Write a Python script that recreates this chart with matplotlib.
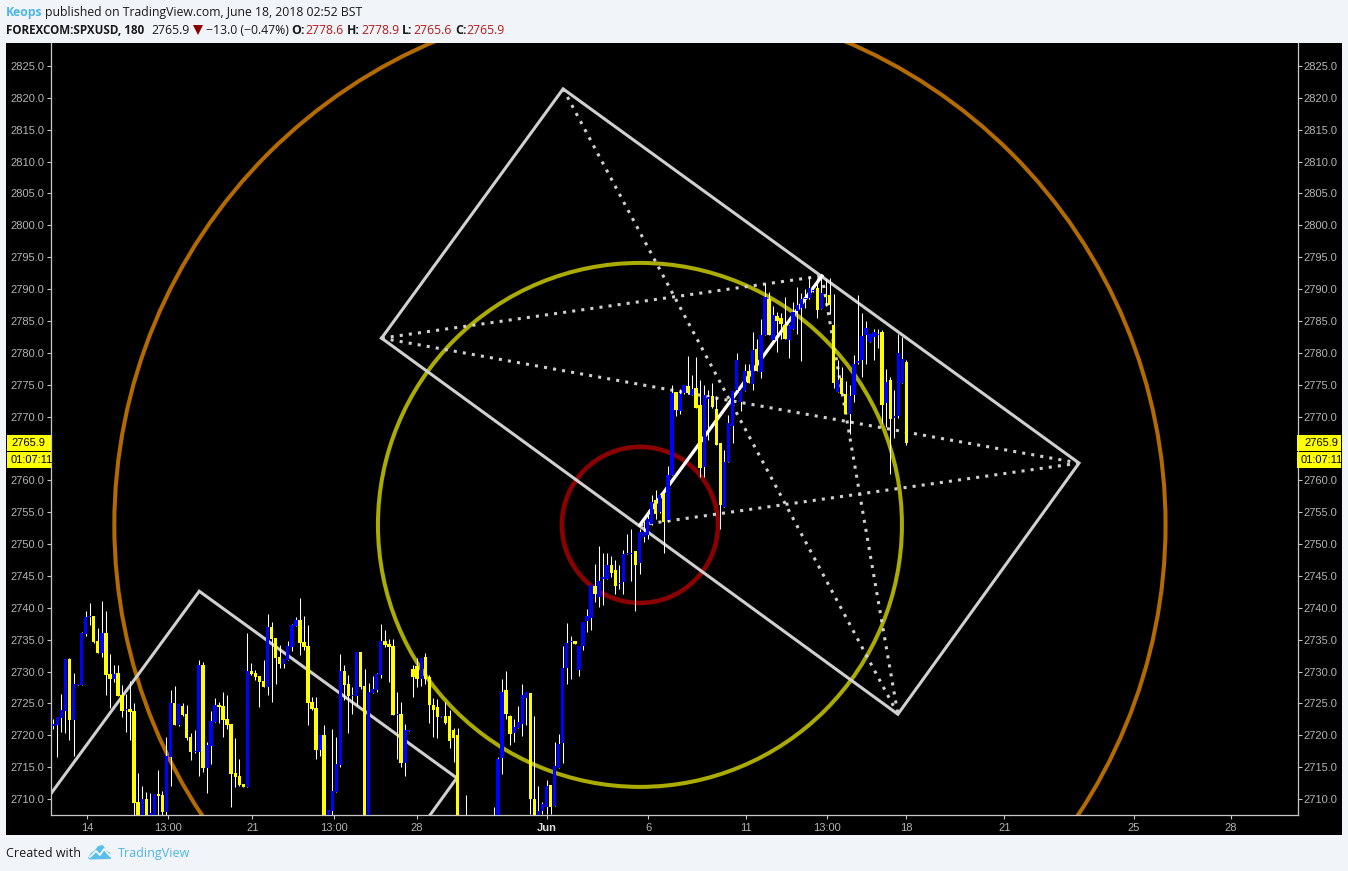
import matplotlib
matplotlib.use("Agg")
import numpy as np
import matplotlib.pyplot as plt
from matplotlib.patches import Ellipse, Polygon, Rectangle
from matplotlib.lines import Line2D

W, H = 1348, 871

# 3 hour bars. bars under the bottom of the axis are guesses
opens = [
    2721.5, 2721.6, 2722.7, 2723.8, 2732.0, 2722.4, 2727.9, 2727.9, 2735.9, 2738.5,
    2738.7, 2734.8, 2732.9, 2736.1, 2729.6, 2728.8, 2729.8, 2726.3, 2723.9, 2724.1,
    2723.8, 2709.5, 2706.5, 2710.0, 2706.8, 2707.0, 2710.8, 2710.6, 2708.0, 2716.6,
    2725.1, 2721.6, 2724.6, 2723.3, 2719.7, 2717.3, 2717.4, 2731.0, 2714.9, 2718.3,
    2722.1, 2724.8, 2724.6, 2722.6, 2721.8, 2714.1, 2713.6, 2712.4, 2711.9, 2730.1,
    2729.8, 2729.3, 2728.5, 2727.6, 2737.0, 2735.3, 2732.3, 2731.2, 2731.8, 2733.9,
    2737.2, 2738.1, 2734.6, 2734.0, 2725.2, 2724.3, 2717.7, 2720.0, 2706.5, 2708.1,
    2711.1, 2715.3, 2730.1, 2728.1, 2726.2, 2726.2, 2733.1, 2727.7, 2706.0, 2726.6,
    2727.1, 2729.5, 2734.8, 2734.3, 2734.0, 2723.2, 2723.3, 2715.7, 2720.7, 2730.4,
    2730.9, 2728.8, 2732.3, 2729.1, 2724.8, 2724.4, 2722.9, 2723.0, 2723.0, 2720.8,
    2720.0, 2705.0, 2705.5, 2704.5, 2704.0, 2703.5, 2703.0, 2703.5, 2704.0, 2704.5,
    2705.0, 2716.4, 2727.1, 2723.0, 2720.4, 2721.1, 2721.8, 2725.9, 2726.6, 2710.0,
    2706.0, 2708.1, 2708.8, 2712.2, 2708.9, 2714.9, 2718.8, 2730.6, 2734.6, 2734.8,
    2730.2, 2734.0, 2737.9, 2738.4, 2743.4, 2741.7, 2744.5, 2744.5, 2746.7, 2745.9,
    2743.7, 2744.0, 2748.4, 2748.4, 2748.9, 2747.0, 2751.1, 2751.4, 2753.1, 2756.9,
    2755.0, 2757.8, 2753.8, 2760.8, 2773.8, 2770.9, 2773.7, 2774.8, 2773.4, 2774.5,
    2771.8, 2762.1, 2772.7, 2773.2, 2771.2, 2765.8, 2755.8, 2762.9, 2768.5, 2774.2,
    2772.3, 2774.0, 2777.1, 2775.1, 2780.6, 2777.0, 2782.8, 2788.4, 2782.0, 2785.8,
    2785.5, 2784.4, 2782.0, 2783.7, 2786.6, 2787.0, 2788.4, 2788.6, 2789.7, 2790.2,
    2786.9, 2789.1, 2789.1, 2784.4, 2773.9, 2776.1, 2773.5, 2770.4, 2773.4, 2778.4,
    2778.9, 2782.8, 2781.7, 2782.5, 2782.8, 2783.3, 2772.1, 2775.7, 2769.8, 2770.1,
    2775.3, 2778.6,
]
closes = [
    2721.8, 2722.9, 2724.0, 2732.0, 2722.4, 2728.1, 2728.1, 2736.1, 2738.6, 2738.7,
    2734.6, 2732.9, 2736.1, 2729.5, 2728.8, 2729.6, 2726.2, 2723.8, 2724.1, 2723.7,
    2709.4, 2706.5, 2710.0, 2706.8, 2707.8, 2710.8, 2710.5, 2708.0, 2716.8, 2725.1,
    2721.6, 2724.9, 2723.2, 2719.6, 2717.4, 2717.5, 2731.0, 2714.9, 2718.5, 2722.2,
    2724.8, 2724.4, 2722.4, 2721.6, 2713.9, 2713.5, 2712.2, 2711.9, 2730.1, 2729.6,
    2729.1, 2728.4, 2727.6, 2737.0, 2735.1, 2732.1, 2731.2, 2732.0, 2734.0, 2737.3,
    2738.1, 2734.5, 2733.9, 2725.1, 2724.1, 2717.7, 2720.0, 2706.0, 2708.3, 2711.3,
    2715.5, 2730.1, 2727.9, 2726.2, 2726.3, 2733.1, 2727.6, 2706.0, 2726.8, 2727.3,
    2729.6, 2734.8, 2734.2, 2733.9, 2723.2, 2723.3, 2715.7, 2720.8, 2720.8, 2729.1,
    2728.8, 2732.1, 2728.8, 2724.8, 2724.0, 2722.9, 2723.0, 2721.9, 2719.1, 2719.6,
    2706.0, 2705.5, 2704.5, 2704.0, 2703.5, 2703.0, 2703.5, 2704.0, 2704.5, 2706.0,
    2716.3, 2726.8, 2723.3, 2720.2, 2721.3, 2722.1, 2726.3, 2726.8, 2710.0, 2706.0,
    2708.1, 2709.2, 2712.0, 2708.8, 2715.2, 2718.6, 2730.6, 2734.5, 2734.8, 2734.3,
    2734.0, 2737.8, 2738.7, 2743.6, 2742.2, 2744.2, 2744.8, 2746.7, 2745.4, 2743.4,
    2743.9, 2748.4, 2748.6, 2748.6, 2746.7, 2751.9, 2751.9, 2753.9, 2756.6, 2754.7,
    2757.7, 2753.4, 2760.8, 2773.7, 2771.0, 2773.5, 2774.9, 2773.7, 2774.3, 2771.3,
    2761.9, 2773.4, 2773.1, 2771.5, 2765.5, 2756.1, 2762.9, 2769.0, 2774.0, 2778.9,
    2774.0, 2777.1, 2775.3, 2780.4, 2777.2, 2782.8, 2788.8, 2782.8, 2785.9, 2785.0,
    2784.5, 2782.2, 2784.2, 2786.4, 2787.5, 2788.4, 2788.6, 2790.2, 2789.9, 2786.7,
    2789.4, 2788.8, 2787.5, 2775.3, 2775.7, 2773.5, 2770.4, 2773.2, 2778.3, 2778.7,
    2782.6, 2783.9, 2783.0, 2783.3, 2783.0, 2771.8, 2775.4, 2769.6, 2770.1, 2780.0,
    2779.0, 2765.9,
]
highs = [
    2722.5, 2722.9, 2726.5, 2732.0, 2732.1, 2729.7, 2728.1, 2736.2, 2739.5, 2740.8,
    2738.7, 2736.8, 2741.1, 2739.5, 2732.8, 2731.0, 2731.0, 2727.9, 2726.5, 2728.5,
    2725.0, 2714.1, 2712.0, 2711.1, 2710.9, 2710.8, 2714.6, 2711.3, 2719.7, 2727.1,
    2727.7, 2724.9, 2725.1, 2724.8, 2720.3, 2720.8, 2731.8, 2731.5, 2719.0, 2723.8,
    2725.9, 2725.2, 2726.8, 2726.3, 2721.8, 2719.6, 2716.3, 2712.4, 2736.1, 2731.3,
    2730.2, 2729.3, 2731.8, 2739.0, 2737.8, 2735.3, 2734.2, 2732.0, 2734.8, 2737.5,
    2738.6, 2741.5, 2738.7, 2737.3, 2726.0, 2726.0, 2720.0, 2721.6, 2708.3, 2721.0,
    2719.7, 2732.8, 2731.0, 2729.5, 2727.6, 2733.1, 2733.1, 2730.4, 2728.2, 2729.3,
    2729.8, 2737.5, 2736.5, 2735.1, 2735.1, 2726.8, 2725.2, 2721.8, 2720.8, 2731.0,
    2732.1, 2732.1, 2732.9, 2729.5, 2725.9, 2725.7, 2723.0, 2725.2, 2724.0, 2721.1,
    2721.1, 2706.5, 2710.6, 2706.0, 2705.5, 2705.0, 2704.5, 2705.0, 2705.5, 2708.8,
    2716.6, 2728.8, 2730.1, 2723.2, 2722.5, 2724.6, 2728.1, 2726.8, 2726.6, 2723.0,
    2712.0, 2709.5, 2713.0, 2712.2, 2719.0, 2720.2, 2734.0, 2737.6, 2735.6, 2734.8,
    2734.0, 2737.8, 2739.8, 2743.6, 2746.9, 2749.7, 2748.6, 2748.6, 2748.1, 2747.5,
    2746.7, 2749.1, 2751.6, 2752.3, 2748.9, 2752.3, 2753.6, 2755.3, 2757.7, 2758.5,
    2757.7, 2757.8, 2762.2, 2774.9, 2773.8, 2774.3, 2774.9, 2779.5, 2776.5, 2779.3,
    2775.7, 2774.9, 2774.2, 2775.3, 2773.2, 2765.8, 2764.7, 2770.2, 2774.0, 2780.0,
    2774.0, 2778.2, 2778.2, 2783.3, 2782.2, 2785.3, 2791.0, 2789.5, 2787.4, 2786.4,
    2786.3, 2788.8, 2784.4, 2788.0, 2790.3, 2789.4, 2790.0, 2791.9, 2790.0, 2791.7,
    2791.9, 2791.6, 2791.7, 2789.2, 2778.9, 2777.8, 2775.6, 2775.0, 2779.7, 2789.1,
    2786.3, 2785.0, 2783.0, 2783.7, 2783.7, 2783.6, 2777.5, 2776.2, 2774.2, 2783.0,
    2782.5, 2778.9,
]
lows = [
    2721.0, 2716.6, 2720.5, 2720.3, 2719.3, 2716.8, 2727.9, 2727.9, 2735.6, 2737.3,
    2734.4, 2732.9, 2732.3, 2726.3, 2724.3, 2728.4, 2726.1, 2722.9, 2720.5, 2719.3,
    2707.0, 2705.0, 2705.0, 2705.5, 2706.0, 2706.5, 2707.0, 2707.5, 2707.5, 2712.0,
    2721.6, 2721.5, 2723.0, 2719.3, 2716.1, 2717.2, 2713.6, 2714.2, 2711.0, 2715.5,
    2722.1, 2721.9, 2719.7, 2721.0, 2708.8, 2711.9, 2712.1, 2711.9, 2711.9, 2729.5,
    2728.7, 2724.4, 2727.6, 2726.3, 2725.2, 2728.1, 2730.6, 2730.6, 2731.8, 2733.2,
    2737.2, 2732.6, 2733.4, 2721.6, 2724.0, 2716.3, 2716.8, 2705.5, 2706.0, 2707.5,
    2711.1, 2715.0, 2725.5, 2720.4, 2723.3, 2724.8, 2727.3, 2705.0, 2705.0, 2726.6,
    2726.8, 2729.0, 2733.9, 2728.4, 2723.2, 2716.3, 2715.0, 2713.6, 2720.7, 2726.0,
    2727.6, 2727.7, 2728.1, 2721.9, 2719.7, 2719.6, 2722.9, 2721.8, 2718.0, 2715.8,
    2705.0, 2703.0, 2703.5, 2703.0, 2702.5, 2702.0, 2702.0, 2702.5, 2703.0, 2703.0,
    2704.5, 2713.9, 2722.5, 2718.5, 2719.0, 2721.1, 2719.9, 2721.6, 2707.6, 2705.0,
    2705.5, 2707.6, 2707.6, 2707.6, 2708.9, 2714.9, 2715.7, 2728.1, 2728.8, 2734.3,
    2729.3, 2733.4, 2736.2, 2736.5, 2740.9, 2740.1, 2740.4, 2744.5, 2744.8, 2742.2,
    2742.9, 2742.2, 2748.4, 2744.2, 2739.5, 2745.3, 2750.3, 2750.8, 2753.0, 2753.9,
    2754.8, 2748.6, 2753.4, 2760.8, 2770.1, 2770.4, 2773.5, 2773.5, 2773.4, 2771.3,
    2760.5, 2760.5, 2766.3, 2771.3, 2765.5, 2752.3, 2755.8, 2762.9, 2765.8, 2774.2,
    2770.9, 2774.0, 2775.3, 2774.2, 2777.2, 2776.1, 2782.8, 2782.8, 2782.0, 2780.1,
    2782.2, 2782.2, 2779.2, 2783.7, 2783.0, 2778.7, 2787.0, 2788.4, 2789.6, 2785.5,
    2786.9, 2787.4, 2786.1, 2774.5, 2773.9, 2773.5, 2770.4, 2767.3, 2772.3, 2778.3,
    2776.2, 2778.3, 2781.7, 2778.9, 2780.8, 2769.0, 2768.4, 2761.0, 2766.6, 2769.8,
    2775.3, 2765.6,
]

# time axis, in bar numbers
x_tick_pos = [8.4, 28.4, 49.2, 69.4, 90.0, 122.1, 147.1, 171.3, 191.4, 211.0, 235.2, 267.2, 291.2]
x_tick_labels = ["14", "13:00", "21", "13:00", "28", "Jun", "6", "11", "13:00", "18", "21", "25", "28"]
y_ticks = np.arange(2710, 2830, 5)

# drawings: (bar, price)
a = (81.2, 2782.3)
b = (126.1, 2821.4)
c = (253.7, 2762.7)
d = (208.9, 2723.3)
e = (190.1, 2792.05)
f = (145.1, 2753.0)
box_main = [a, b, c, d, a]
dotted = [(a, e), (a, c), (c, f), (b, d), (e, d)]
box_old = [(-5.7, 2706.4), (36.1, 2742.6), (99.8, 2713.3), (90.7, 2705.3)]
# circles: radius in bars, radius in price, colour, line width
circles = [(19.3, 12.24, "#8b0000", 3.3), (64.8, 41.1, "#abab00", 2.9), (130.0, 82.4, "#b36b00", 2.9)]

last_price = "2765.9"
countdown = "01:07:11"

BG = "#f1f4f8"
GREY = "#b4b4b4"
AXIS = "#c8c8c8"
BLUE_TEXT = "#4db5e8"
RED = "#b51a1a"


def fx(px):
    return px / W


def fy(py):
    return 1 - py / H


def put(px, py, s, **kw):
    kw.setdefault("family", "Open Sans")
    kw.setdefault("fontsize", 8.8)
    kw.setdefault("color", "#1a1a1a")
    kw.setdefault("va", "center")
    fig.text(fx(px), fy(py), s, **kw)


fig = plt.figure(figsize=(W / 100, H / 100), dpi=100, facecolor=BG)
fig.add_artist(Rectangle((fx(6), fy(835)), fx(1336), 792 / H, transform=fig.transFigure,
                         facecolor="black", edgecolor="none", zorder=-1))

ax = fig.add_axes([fx(50.5), fy(815), fx(1247), 772 / H], facecolor="black")
ax.set_xlim(-0.69, 307.74)
ax.set_ylim(2707.49, 2828.6)

for rx, ry, col, lw in circles:
    ax.add_patch(Ellipse(f, 2 * rx, 2 * ry, fill=False, edgecolor=col, linewidth=lw, zorder=2))

ax.plot(*zip(*box_old), color="#d0d0d0", lw=2.2, zorder=2, solid_joinstyle="miter")
ax.plot(*zip(*box_main), color="#d0d0d0", lw=2.2, zorder=2, solid_joinstyle="miter")
for p, q in dotted:
    ax.plot([p[0], q[0]], [p[1], q[1]], color="#d0d0d0", lw=2.2, ls=(0, (1, 2)), zorder=2)
ax.plot([f[0], e[0]], [f[1], e[1]], color="white", lw=2.4, zorder=2)

bars = np.arange(len(opens))
o = np.array(opens)
cl = np.array(closes)
colors = np.where(cl >= o, "#0000ff", "#ffff00")
ax.vlines(bars, lows, highs, color="white", linewidth=0.75, zorder=3)
ax.bar(bars, np.abs(cl - o), bottom=np.minimum(o, cl), width=3.4 / 4.043, color=colors,
       linewidth=0, zorder=4)

ax.set_yticks(y_ticks)
# 2765.0 sits behind the yellow price label in the original
ax.set_yticklabels(["" if v == 2765 else "%.1f" % v for v in y_ticks])
ax.set_xticks(x_tick_pos)
ax.set_xticklabels(x_tick_labels)
ax.tick_params(axis="y", left=True, right=True, labelleft=True, labelright=True,
               colors=AXIS, labelcolor=GREY, length=3, width=0.8, pad=1.2, labelsize=8)
ax.tick_params(axis="x", colors=AXIS, labelcolor=GREY, length=3, width=0.8, pad=2.5, labelsize=8)
for t in ax.get_yticklabels() + ax.get_xticklabels():
    t.set_family("Liberation Sans")
jun = ax.get_xticklabels()[x_tick_labels.index("Jun")]
jun.set_fontweight("bold")
jun.set_color("#e0e0e0")
for side in ["left", "right", "bottom"]:
    ax.spines[side].set_color(AXIS)
    ax.spines[side].set_linewidth(0.9)
ax.spines["top"].set_visible(False)

# yellow price and countdown labels on both scales
for x0, x1, x_price, x_clock in [(7, 51, 11, 11), (1297, 1341, 1304, 1301)]:
    for y0, y1, s, xt in [(435, 451, last_price, x_price), (452, 468, countdown, x_clock)]:
        fig.add_artist(Rectangle((fx(x0), fy(y1)), fx(x1 - x0), (y1 - y0) / H, transform=fig.transFigure,
                                 facecolor="#ffff00", edgecolor="none", zorder=5))
        fig.text(fx(xt), fy((y0 + y1) / 2 - 0.5), s, family="Liberation Sans",
                 fontsize=8, color="black", ha="left", va="center", zorder=6)

# header
put(6, 12.5, "Keops", color=BLUE_TEXT, fontweight="bold")
put(45, 12.5, "published on TradingView.com, June 18, 2018 02:52 BST")
put(6, 30.5, "FOREXCOM:SPXUSD, 180", fontweight="bold", fontsize=8.4)
put(151, 30.5, last_price)
fig.add_artist(Polygon([(fx(193), fy(25)), (fx(203), fy(25)), (fx(198), fy(35))], closed=True,
                       transform=fig.transFigure, facecolor="#8b0000", edgecolor="none"))
put(206, 30.5, "\u221213.0 (\u22120.47%)")
for px_label, label, px_val, val in [(291, "O:", 305, "2778.6"), (347, "H:", 361, "2778.9"),
                                     (402, "L:", 413, "2765.6"), (455, "C:", 466, "2765.9")]:
    put(px_label, 30.5, label, fontweight="bold")
    put(px_val, 30.5, val, color=RED)

# footer
put(6, 853.5, "Created with", fontsize=9)
logo = [(88, 858), (91, 853), (95, 850), (98, 846), (103, 845), (106, 850), (110, 853), (111, 859), (90, 859.5)]
fig.add_artist(Polygon([(fx(x), fy(y)) for x, y in logo], closed=True, transform=fig.transFigure,
                       facecolor="#5bc0e8", edgecolor="none"))
zig = [(90, 857), (96, 851), (100, 855), (104, 849), (110, 856)]
fig.add_artist(Line2D([fx(x) for x, y in zig], [fy(y) for x, y in zig], color="white", lw=1.2,
                      transform=fig.transFigure))
put(118, 853.5, "TradingView", color=BLUE_TEXT, fontsize=9)

fig.savefig("out.png", dpi=100, facecolor=BG)
